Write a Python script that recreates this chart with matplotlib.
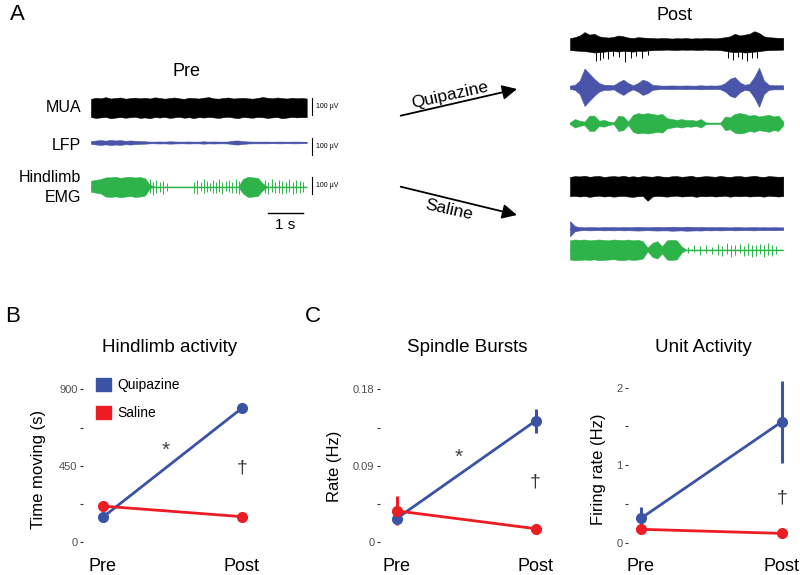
import numpy as np
import matplotlib
matplotlib.use("Agg")
import matplotlib.pyplot as plt
from matplotlib.patches import Patch

plt.rcParams['font.family'] = ['Liberation Sans', 'DejaVu Sans']

# ---------------- data ----------------
CONDITIONS = ["Pre", "Post"]
GROUPS = ["Quipazine", "Saline"]

# B: hindlimb activity (time moving, s)
HL_QUIP = [147, 788]
HL_QUIP_ERR = [12, 10]
HL_SAL = [213, 151]
HL_SAL_ERR = [20, 10]

# C: spindle bursts (rate, Hz)
SB_QUIP = [0.028, 0.143]
SB_QUIP_ERR = [0.004, 0.014]
SB_SAL = [0.037, 0.016]
SB_SAL_ERR = [0.017, 0.004]

# D: unit activity (firing rate, Hz)
UA_QUIP = [0.315, 1.56]
UA_QUIP_ERR = [0.15, 0.53]
UA_SAL = [0.173, 0.12]
UA_SAL_ERR = [0.03, 0.02]

HL_TICKS = [0, 225, 450, 675, 900]
HL_TICKLABELS = ["0", "", "450", "", "900"]
SB_TICKS = [0, 0.045, 0.09, 0.135, 0.18]
SB_TICKLABELS = ["0", "", "0.09", "", "0.18"]
UA_TICKS = [0, 0.5, 1, 1.5, 2]
UA_TICKLABELS = ["0", "", "1", "", "2"]

# A: example traces, envelope amplitudes (uV)
PRE_DUR = 6.06   # s
POST_DUR = 5.99  # s

PRE_MUA_UP = [52, 58, 55, 62, 54, 57, 60, 53, 56, 59, 55, 58, 54, 61, 57, 53, 56, 60, 55, 52, 58, 56, 54,
              59, 62, 55, 53, 57, 60, 54, 56, 58, 55, 53, 57, 63, 58, 55, 60, 56, 54, 58, 55, 57, 54]
PRE_MUA_DN = [55, 60, 57, 54, 62, 58, 55, 59, 56, 53, 60, 57, 62, 55, 58, 54, 60, 57, 53, 59, 56, 61, 55,
              58, 54, 57, 60, 56, 53, 58, 61, 55, 57, 59, 54, 56, 60, 57, 55, 62, 58, 54, 57, 55, 56]
PRE_LFP = [8, 12, 14, 11, 15, 12, 14, 10, 12, 10, 8, 7, 5, 5, 6, 5, 7, 6, 5, 5, 6, 5, 5,
           7, 5, 6, 5, 5, 6, 11, 12, 8, 6, 5, 5, 5, 5, 4, 5, 5, 4, 5, 5, 4, 4]
PRE_EMG_UP = [35, 40, 45, 55, 55, 58, 52, 56, 58, 54, 57, 50, 12, 0, 0, 0, 0, 0, 0, 0, 0, 0, 0,
              0, 0, 0, 0, 0, 0, 0, 0, 45, 58, 55, 52, 20, 0, 0, 0, 0, 0, 0, 0, 0, 0]
PRE_EMG_DN = [30, 35, 40, 58, 60, 57, 62, 58, 55, 60, 58, 52, 10, 0, 0, 0, 0, 0, 0, 0, 0, 0, 0,
              0, 0, 0, 0, 0, 0, 0, 0, 40, 60, 58, 55, 22, 0, 0, 0, 0, 0, 0, 0, 0, 0]
PRE_EMG_SPIKE_T = [1.66, 1.74, 1.83, 1.94, 2.02, 2.13, 2.89, 2.98, 3.09, 3.17, 3.26, 3.34, 3.43, 3.51,
                   3.60, 3.68, 3.79, 3.88, 3.96, 4.07, 4.16, 4.89, 4.97, 5.08, 5.17, 5.28, 5.37, 5.48,
                   5.56, 5.67, 5.76, 5.87, 5.96]
PRE_EMG_SPIKE_UP = [45, 30, 40, 25, 35, 20, 25, 40, 30, 45, 35, 20, 40, 30, 45, 25, 35, 40, 30, 45, 35,
                    40, 30, 45, 25, 40, 35, 30, 45, 25, 40, 35, 30]
PRE_EMG_SPIKE_DN = [40, 50, 35, 30, 45, 25, 35, 45, 25, 40, 30, 25, 35, 40, 30, 45, 25, 30, 40, 35, 45,
                    35, 45, 30, 40, 35, 45, 40, 30, 45, 35, 40, 30]

POST_Q_MUA_UP = [35, 40, 50, 70, 55, 60, 45, 40, 38, 42, 50, 45, 38, 35, 40, 38, 36, 35, 33, 35, 34, 32, 34,
                 33, 35, 32, 34, 33, 35, 34, 33, 36, 40, 45, 60, 50, 55, 60, 75, 65, 45, 40, 38, 36, 35]
POST_Q_MUA_DN = [35, 38, 40, 42, 45, 50, 48, 45, 42, 40, 45, 40, 42, 45, 40, 42, 38, 36, 35, 34, 33, 34, 35,
                 33, 34, 33, 35, 34, 33, 35, 34, 36, 40, 45, 48, 45, 50, 48, 45, 42, 38, 36, 35, 34, 33]
POST_Q_MUA_SPIKE_T = [0.73, 0.84, 0.93, 1.07, 1.21, 1.38, 1.54, 1.71, 1.85, 2.02, 2.19,
                      4.44, 4.58, 4.72, 4.83, 4.97, 5.11, 5.25]
POST_Q_MUA_SPIKE_DN = [100, 95, 85, 90, 70, 75, 105, 80, 70, 85, 65, 80, 95, 75, 90, 100, 85, 80]
POST_Q_LFP = [10, 15, 40, 110, 80, 50, 25, 15, 15, 12, 30, 45, 25, 12, 25, 45, 35, 15, 12, 10, 10, 11, 10,
              10, 11, 10, 10, 12, 10, 11, 10, 12, 25, 50, 60, 30, 15, 20, 60, 115, 40, 15, 12, 12, 12]
POST_Q_EMG = [5, 25, 15, 10, 45, 45, 15, 20, 10, 5, 45, 40, 10, 50, 60, 55, 60, 55, 50, 55, 30, 25, 20,
              25, 18, 20, 15, 25, 5, 3, 3, 3, 40, 35, 55, 60, 55, 45, 50, 40, 45, 50, 40, 45, 10]

POST_S_MUA_UP = [55, 60, 58, 62, 56, 59, 61, 55, 58, 60, 57, 62, 56, 59, 55, 60, 58, 56, 61, 57, 55, 59, 60,
                 56, 58, 62, 55, 57, 60, 58, 56, 61, 57, 55, 59, 60, 56, 58, 62, 57, 55, 60, 58, 56, 57]
POST_S_MUA_DN = [58, 56, 60, 57, 62, 58, 55, 60, 57, 61, 58, 56, 60, 62, 58, 57, 85, 60, 56, 58, 61, 57, 55,
                 60, 58, 56, 62, 57, 59, 56, 60, 58, 55, 61, 57, 59, 56, 60, 58, 57, 61, 55, 58, 60, 57]
POST_S_LFP = [45, 15, 10, 8, 10, 9, 8, 10, 9, 10, 8, 10, 9, 10, 11, 10, 9, 10, 11, 10, 10, 12, 11,
              10, 12, 11, 10, 11, 9, 10, 9, 10, 9, 8, 10, 9, 8, 9, 10, 8, 9, 8, 9, 8, 8]
POST_S_EMG_UP = [55, 60, 58, 60, 55, 58, 60, 57, 55, 60, 58, 56, 60, 55, 58, 50, 12, 40, 50, 20, 55, 58, 55,
                 20, 0, 0, 0, 0, 0, 0, 0, 0, 0, 0, 0, 0, 0, 0, 0, 0, 0, 0, 0, 0, 0]
POST_S_EMG_DN = [58, 62, 60, 58, 60, 57, 62, 60, 58, 56, 60, 62, 57, 60, 58, 52, 10, 42, 52, 22, 58, 60, 57,
                 18, 0, 0, 0, 0, 0, 0, 0, 0, 0, 0, 0, 0, 0, 0, 0, 0, 0, 0, 0, 0, 0]
POST_S_EMG_SPIKE_T = [3.31, 3.48, 3.65, 3.82, 3.99, 4.16, 4.27, 4.41, 4.52, 4.63, 4.78, 4.89, 5.00, 5.11,
                      5.22, 5.34, 5.45, 5.56, 5.67, 5.79]
POST_S_EMG_SPIKE_UP = [15, 25, 20, 30, 15, 35, 20, 40, 25, 30, 35, 20, 40, 30, 25, 35, 30, 40, 25, 20]
POST_S_EMG_SPIKE_DN = [20, 15, 30, 20, 25, 30, 35, 25, 40, 30, 20, 35, 30, 45, 35, 25, 40, 30, 35, 25]

# ---------------- style ----------------
BLUE = "#3A53A4"
RED = "#EC1C24"
LFP_BLUE = "#4A55AA"
GREEN = "#2DB34A"
W, H = 800, 575

fig = plt.figure(figsize=(8, 5.75), dpi=100)


def px_axes(left, top, right, bottom):
    return fig.add_axes([left / W, 1 - bottom / H, (right - left) / W, (bottom - top) / H])


# overlay axes in pixel coordinates for annotations
axA = fig.add_axes([0, 0, 1, 1])
axA.set_xlim(0, W)
axA.set_ylim(H, 0)
axA.axis("off")

UV_PER_PX = 100 / 17.0
S_PER_PX = 1 / 35.6


def trace_axes(left, top, right, bottom, dur):
    ax = px_axes(left, top, right, bottom)
    ax.set_xlim(0, dur)
    ax.set_ylim(-(bottom - top) * UV_PER_PX, 0)
    ax.axis("off")
    return ax


def yoff(center_px, top_px):
    return -(center_px - top_px) * UV_PER_PX


def draw_band(ax, dur, up, dn, off, color, base=False, blw=1.0):
    t = np.linspace(0, dur, len(up))
    up = np.asarray(up, float)
    dn = np.asarray(dn, float)
    ax.fill_between(t, off + up, off - dn, color=color, lw=0.4, edgecolor=color)
    if base:
        ax.plot([0, dur], [off, off], color=color, lw=blw)


def draw_spikes(ax, t, up, dn, off, color, lw=0.7):
    t = np.asarray(t)
    ax.vlines(t, off - np.asarray(dn), off + np.asarray(up), color=color, lw=lw)


# ---- Pre traces ----
PRE_TOP = 85
axPre = trace_axes(91, PRE_TOP, 306.7, 205, PRE_DUR)
o_mua = yoff(107.7, PRE_TOP)
o_lfp = yoff(142.5, PRE_TOP)
o_emg = yoff(186.7, PRE_TOP)
draw_band(axPre, PRE_DUR, PRE_MUA_UP, PRE_MUA_DN, o_mua, "black")
draw_band(axPre, PRE_DUR, PRE_LFP, PRE_LFP, o_lfp, LFP_BLUE, base=True, blw=0.8)
draw_band(axPre, PRE_DUR, PRE_EMG_UP, PRE_EMG_DN, o_emg, GREEN, base=True)
draw_spikes(axPre, PRE_EMG_SPIKE_T, PRE_EMG_SPIKE_UP, PRE_EMG_SPIKE_DN, o_emg, GREEN)

# scale bars (100 uV, 1 s)
xb = PRE_DUR + (312.3 - 306.7) * S_PER_PX
for cpx in (106.7, 146.7, 185.5):
    c = yoff(cpx, PRE_TOP)
    axPre.plot([xb, xb], [c - 50, c + 50], color="black", lw=0.8, clip_on=False)
    axA.text(316, cpx, "100 µV", fontsize=5, va="center", ha="left")
ysb = yoff(213.3, PRE_TOP)
axPre.plot([PRE_DUR - 1.1, PRE_DUR - 0.1], [ysb, ysb], color="black", lw=1.0, clip_on=False)
axA.text(285, 225, "1 s", fontsize=11, ha="center", va="center")

# ---- Post traces ----
POST_TOP = 25
axPost = trace_axes(570, POST_TOP, 783.3, 265, POST_DUR)
oq_mua = yoff(44.0, POST_TOP)
oq_lfp = yoff(87.3, POST_TOP)
oq_emg = yoff(123.3, POST_TOP)
os_mua = yoff(186.3, POST_TOP)
os_lfp = yoff(228.7, POST_TOP)
os_emg = yoff(249.7, POST_TOP)
draw_band(axPost, POST_DUR, POST_Q_MUA_UP, POST_Q_MUA_DN, oq_mua, "black")
draw_spikes(axPost, POST_Q_MUA_SPIKE_T, [0] * len(POST_Q_MUA_SPIKE_T), POST_Q_MUA_SPIKE_DN, oq_mua, "black")
draw_band(axPost, POST_DUR, POST_Q_LFP, POST_Q_LFP, oq_lfp, LFP_BLUE, base=True)
draw_band(axPost, POST_DUR, POST_Q_EMG, POST_Q_EMG, oq_emg, GREEN, base=True)
draw_band(axPost, POST_DUR, POST_S_MUA_UP, POST_S_MUA_DN, os_mua, "black")
draw_band(axPost, POST_DUR, POST_S_LFP, POST_S_LFP, os_lfp, LFP_BLUE, base=True, blw=0.8)
draw_band(axPost, POST_DUR, POST_S_EMG_UP, POST_S_EMG_DN, os_emg, GREEN, base=True)
draw_spikes(axPost, POST_S_EMG_SPIKE_T, POST_S_EMG_SPIKE_UP, POST_S_EMG_SPIKE_DN, os_emg, GREEN)

# ---- panel A texts ----
axA.text(17, 15, "A", fontsize=16, ha="center", va="center")
axA.text(187, 72, "Pre", fontsize=13, ha="center", va="center")
axA.text(675, 15, "Post", fontsize=13, ha="center", va="center")
axA.text(81, 108, "MUA", fontsize=11.5, ha="right", va="center")
axA.text(81, 146, "LFP", fontsize=11.5, ha="right", va="center")
axA.text(81, 178, "Hindlimb", fontsize=11.5, ha="right", va="center")
axA.text(81, 197, "EMG", fontsize=11.5, ha="right", va="center")

arrow_kw = dict(arrowstyle="-|>", mutation_scale=22, lw=1.3, color="black", shrinkA=0, shrinkB=0)
axA.annotate("", xy=(517, 89), xytext=(400.7, 115.7), arrowprops=arrow_kw)
axA.annotate("", xy=(517, 215), xytext=(400.7, 186.7), arrowprops=arrow_kw)
axA.text(450, 95, "Quipazine", fontsize=12.5, rotation=12.5, ha="center", va="center",
         rotation_mode="anchor")
axA.text(449, 210, "Saline", fontsize=12.5, rotation=-12.5, ha="center", va="center",
         rotation_mode="anchor")

# ---------------- B, C, D panels ----------------
TICK_COLOR = "#333333"
LABEL_COLOR = "#4D4D4D"


def stat_panel(px_left, px_right, pre_px, post_px, y0_px, ytop_px, ytop_val,
               quip, quip_err, sal, sal_err, ticks, ticklabels):
    top, bottom = 375, 550
    ax = px_axes(px_left, top, px_right, bottom)
    xper = 1.0 / (post_px - pre_px)
    ax.set_xlim((px_left - pre_px) * xper, 1 + (px_right - post_px) * xper)
    yper = ytop_val / (y0_px - ytop_px)
    ax.set_ylim(-(bottom - y0_px) * yper, ytop_val + (ytop_px - top) * yper)
    x = np.arange(len(CONDITIONS))
    for vals, errs, col in ((quip, quip_err, BLUE), (sal, sal_err, RED)):
        ax.errorbar(x, vals, yerr=errs, color=col, lw=2.0, elinewidth=2.2, capsize=0,
                    marker="o", ms=7, mec=col, mfc=col, clip_on=False, zorder=3)
    for s in ax.spines.values():
        s.set_visible(False)
    ax.set_yticks(ticks)
    ax.set_yticklabels(ticklabels)
    ax.tick_params(axis="y", direction="out", length=2.5, width=0.8, color=TICK_COLOR,
                   labelsize=8, labelcolor=LABEL_COLOR, pad=1.5)
    ax.set_xticks(x)
    ax.set_xticklabels(CONDITIONS)
    ax.tick_params(axis="x", length=0, labelsize=13, pad=6)
    ax.patch.set_visible(False)
    return ax


axB = stat_panel(83, 258, 102.7, 241.7, 542.3, 389.3, 900,
                 HL_QUIP, HL_QUIP_ERR, HL_SAL, HL_SAL_ERR, HL_TICKS, HL_TICKLABELS)
axC = stat_panel(380, 555, 396.7, 535.7, 542.3, 389.3, 0.18,
                 SB_QUIP, SB_QUIP_ERR, SB_SAL, SB_SAL_ERR, SB_TICKS, SB_TICKLABELS)
axD = stat_panel(628, 797, 641, 781.7, 542.7, 387.7, 2,
                 UA_QUIP, UA_QUIP_ERR, UA_SAL, UA_SAL_ERR, UA_TICKS, UA_TICKLABELS)

# legend in B
handles = [Patch(facecolor=BLUE, edgecolor=BLUE), Patch(facecolor=RED, edgecolor=RED)]
fig.legend(handles, GROUPS, loc="upper left", bbox_to_anchor=(96 / W, 1 - 378 / H),
           bbox_transform=fig.transFigure, frameon=False, fontsize=10, handlelength=1.1,
           handleheight=1.1, handletextpad=0.45, labelspacing=0.95, borderpad=0, borderaxespad=0)

# titles, labels, annotations
axA.text(13, 316, "B", fontsize=16, ha="center", va="center")
axA.text(313, 316, "C", fontsize=16, ha="center", va="center")
axA.text(170, 348, "Hindlimb activity", fontsize=13.5, ha="center", va="center")
axA.text(467, 348, "Spindle Bursts", fontsize=13.5, ha="center", va="center")
axA.text(703, 348, "Unit Activity", fontsize=13.5, ha="center", va="center")
axA.text(38.5, 469.5, "Time moving (s)", fontsize=12, rotation=90, ha="center", va="center")
axA.text(335, 466.7, "Rate (Hz)", fontsize=12, rotation=90, ha="center", va="center")
axA.text(599, 469, "Firing rate (Hz)", fontsize=12, rotation=90, ha="center", va="center")
axA.text(166, 450, "*", fontsize=15, color="#444444", ha="center", va="center")
axA.text(459, 457, "*", fontsize=15, color="#444444", ha="center", va="center")
axA.text(242, 468, "†", fontsize=14, color="#333333", ha="center", va="center")
axA.text(535, 482, "†", fontsize=14, color="#333333", ha="center", va="center")
axA.text(782, 498, "†", fontsize=14, color="#333333", ha="center", va="center")

fig.savefig("out.png", dpi=100)
